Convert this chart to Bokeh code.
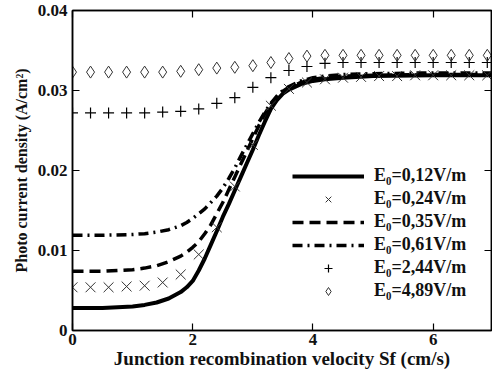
from bokeh.plotting import figure
from bokeh.models import (Range1d, LinearAxis, FixedTicker, CustomJSTickFormatter,
                          Legend, LegendItem)
from bokeh.embed import file_html
from bokeh.resources import INLINE

# ---------------- data ----------------
sf_line = [0, 0.5, 1.0, 1.2, 1.4, 1.6, 1.8, 1.9, 2.0, 2.1, 2.2, 2.3, 2.4, 2.5, 2.6,
           2.7, 2.8, 2.9, 3.0, 3.1, 3.2, 3.3, 3.4, 3.5, 3.6, 3.8, 4.0, 4.2, 4.5,
           5.0, 6.0, 7.0]
j_012 = [0.0028, 0.0028, 0.0030, 0.0032, 0.0035, 0.0040, 0.0048, 0.0054, 0.0062,
         0.0075, 0.0090, 0.0107, 0.0124, 0.0142, 0.0158, 0.0175, 0.0192, 0.0209,
         0.0226, 0.0244, 0.0261, 0.0277, 0.0288, 0.0296, 0.0301, 0.0308, 0.0312,
         0.0314, 0.0316, 0.0318, 0.0319, 0.0319]
j_035 = [0.0074, 0.0074, 0.0076, 0.0078, 0.0081, 0.0086, 0.0093, 0.0098, 0.0104,
         0.0111, 0.0121, 0.0132, 0.0146, 0.0160, 0.0176, 0.0192, 0.0208, 0.0224,
         0.0240, 0.0256, 0.0271, 0.0283, 0.0292, 0.0299, 0.0304, 0.0310, 0.0314,
         0.0316, 0.0318, 0.0319, 0.0320, 0.0320]
j_061 = [0.0119, 0.0119, 0.0120, 0.0121, 0.0123, 0.0126, 0.0131, 0.0135, 0.0140,
         0.0146, 0.0152, 0.0160, 0.0168, 0.0178, 0.0190, 0.0203, 0.0218, 0.0232,
         0.0246, 0.0260, 0.0273, 0.0284, 0.0293, 0.0300, 0.0305, 0.0312, 0.0316,
         0.0318, 0.0320, 0.0321, 0.0322, 0.0322]

sf_mark = [0, 0.3, 0.6, 0.9, 1.2, 1.5, 1.8, 2.1, 2.4, 2.7, 3.0, 3.3, 3.6, 3.9,
           4.2, 4.5, 4.8, 5.1, 5.4, 5.7, 6.0, 6.3, 6.6, 6.9]
j_024 = [0.0054, 0.0054, 0.0054, 0.0055, 0.0056, 0.0060, 0.0070, 0.0095, 0.0129,
         0.0180, 0.0232, 0.0281, 0.0302, 0.0310, 0.0314, 0.0316, 0.0317, 0.0318,
         0.0318, 0.0319, 0.0319, 0.0319, 0.0319, 0.0319]
j_244 = [0.0272, 0.0272, 0.0272, 0.0272, 0.0272, 0.0273, 0.0274, 0.0277, 0.0284,
         0.0291, 0.0304, 0.0316, 0.0325, 0.0330, 0.0334, 0.0335, 0.0335, 0.0335,
         0.0335, 0.0335, 0.0335, 0.0335, 0.0335, 0.0335]
j_489 = [0.0323, 0.0323, 0.0323, 0.0323, 0.0323, 0.0323, 0.0324, 0.0326, 0.0328,
         0.0329, 0.0331, 0.0335, 0.0340, 0.0343, 0.0344, 0.0344, 0.0344, 0.0344,
         0.0344, 0.0344, 0.0344, 0.0344, 0.0344, 0.0344]

labels = ["E\u2080=0,12V/m", "E\u2080=0,24V/m", "E\u2080=0,35V/m",
          "E\u2080=0,61V/m", "E\u2080=2,44V/m", "E\u2080=4,89V/m"]
x_ticks = [0, 2, 4, 6]
y_ticks = [0, 0.01, 0.02, 0.03, 0.04]

FONT = "Liberation Serif"

p = figure(width=492, height=373, output_backend="svg", toolbar_location=None,
           x_range=Range1d(0, 6.97), y_range=Range1d(0, 0.04),
           min_border_left=72, min_border_right=1, min_border_top=10,
           min_border_bottom=43, x_axis_location="below", y_axis_location="left")
p.grid.visible = False
p.outline_line_color = "black"
p.outline_line_width = 1.5
p.background_fill_color = "white"
p.border_fill_color = "white"

# main axes
xa = p.xaxis[0]
ya = p.yaxis[0]
xa.ticker = FixedTicker(ticks=x_ticks)
ya.ticker = FixedTicker(ticks=y_ticks)
ya.formatter = CustomJSTickFormatter(code="return tick == 0 ? '0' : tick.toFixed(2);")
xa.formatter = CustomJSTickFormatter(code="return tick.toFixed(0);")
xa.axis_label = "Junction recombination velocity Sf (cm/s)"
ya.axis_label = "Photo current density (A/cm\u00b2)"
for ax in (xa, ya):
    ax.axis_line_width = 1.5
    ax.axis_line_color = "black"
    ax.major_tick_in = 7
    ax.major_tick_out = 0
    ax.major_tick_line_width = 1.2
    ax.minor_tick_line_color = None
    ax.major_label_text_font = FONT
    ax.major_label_text_font_style = "bold"
    ax.major_label_text_font_size = "17px"
    ax.major_label_text_color = "#111111"
    ax.axis_label_text_font = FONT
    ax.axis_label_text_font_style = "bold"
    ax.axis_label_text_color = "#111111"
xa.axis_label_text_font_size = "19px"
ya.axis_label_text_font_size = "16px"
xa.major_label_standoff = 3
xa.axis_label_standoff = 0
ya.major_label_standoff = 5
ya.axis_label_standoff = 5

# mirror axes (ticks only)
for loc, tk in (("above", x_ticks), ("right", y_ticks)):
    ax = LinearAxis(ticker=FixedTicker(ticks=tk), major_tick_in=7, major_tick_out=0,
                    minor_tick_line_color=None,
                    formatter=CustomJSTickFormatter(code="return '';"),
                    axis_line_width=1.5, major_tick_line_width=1.2,
                    major_label_standoff=0, major_label_text_font_size="1px")
    p.add_layout(ax, loc)

# curves
r1 = p.line(sf_line, j_012, line_color="black", line_width=4)
r3 = p.line(sf_line, j_035, line_color="black", line_width=3.5, line_dash="11 6")
r4 = p.line(sf_line, j_061, line_color="black", line_width=3.5, line_dash="10 5 2 5")
r2 = p.scatter(sf_mark, j_024, marker="x", size=14, line_color="#333333", line_width=1)
r5 = p.scatter(sf_mark, j_244, marker="cross", size=11, line_color="black", line_width=1.2)
r6 = p.scatter(sf_mark, j_489, marker="diamond", size=12, line_color="#333333",
               fill_color=None, line_width=1)

legend = Legend(items=[LegendItem(label=labels[0], renderers=[r1]),
                       LegendItem(label=labels[1], renderers=[r2]),
                       LegendItem(label=labels[2], renderers=[r3]),
                       LegendItem(label=labels[3], renderers=[r4]),
                       LegendItem(label=labels[4], renderers=[r5]),
                       LegendItem(label=labels[5], renderers=[r6])],
                location=(220, 29), glyph_width=72, glyph_height=20, label_height=20,
                label_standoff=10, spacing=2, padding=0, margin=0,
                border_line_color=None, background_fill_alpha=0,
                label_text_font=FONT, label_text_font_style="bold",
                label_text_font_size="18px", label_text_color="#111111")
p.add_layout(legend, "center")

open("out.html", "w").write(file_html(p, INLINE))
